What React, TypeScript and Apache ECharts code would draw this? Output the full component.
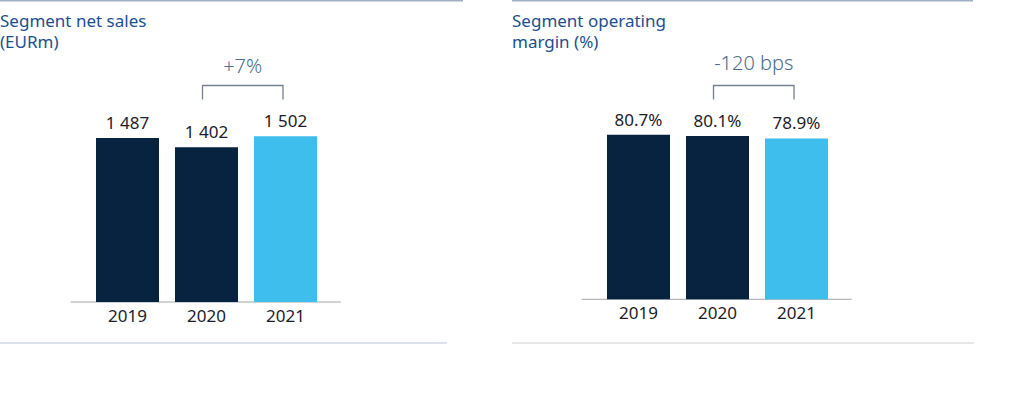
import React, { useEffect, useRef } from "react";
import * as echarts from "echarts";

const years = ["2019", "2020", "2021"];
const netSales = [1487, 1402, 1502];
const netSalesLabels = ["1 487", "1 402", "1 502"];
const opMargin = [80.7, 80.1, 78.9];
const opMarginLabels = ["80.7%", "80.1%", "78.9%"];
const titles = ["Segment net sales\n(EURm)", "Segment operating\nmargin (%)"];
const changes = ["+7%", "-120 bps"];

const NAVY = "#07233f";
const LIGHT = "#3dbeed";
const FONT = "'Noto Sans', sans-serif";

export default function App() {
  const ref = useRef<HTMLDivElement>(null);
  useEffect(() => {
    if (!ref.current) return;
    const chart = echarts.init(ref.current, null, { renderer: "svg" });
    const barData = (vals: number[]) =>
      vals.map((v, i) => ({
        value: v,
        itemStyle: { color: i === vals.length - 1 ? LIGHT : NAVY },
      }));
    const labelCfg = (labels: string[]) => ({
      show: true,
      position: "top",
      distance: 7,
      color: "#1c1c2a",
      fontFamily: FONT,
      fontSize: 17,
      formatter: (p: any) => labels[p.dataIndex],
    });
    const xAxisCfg = (gi: number) => ({
      type: "category",
      gridIndex: gi,
      data: years,
      axisLine: { show: false },
      axisTick: { show: false },
      axisLabel: { color: "#1c1c2a", fontFamily: FONT, fontSize: 17, margin: 5 },
    });
    const yAxisCfg = (gi: number, max: number) => ({
      type: "value",
      gridIndex: gi,
      min: 0,
      max,
      show: false,
      splitLine: { show: false },
    });
    const titleStyle = {
      color: "#1d4f8f",
      fontFamily: FONT,
      fontSize: 17,
      fontWeight: "normal",
      lineHeight: 21,
    };
    chart.setOption({
      animation: false,
      title: [
        { text: titles[0], left: 0, top: 10, padding: 0, textStyle: titleStyle },
        { text: titles[1], left: 512, top: 10, padding: 0, textStyle: titleStyle },
      ],
      grid: [
        { left: 88, width: 237, top: 102, height: 200 },
        { left: 599, width: 237, top: 99.3, height: 200 },
      ],
      xAxis: [xAxisCfg(0), xAxisCfg(1)],
      yAxis: [yAxisCfg(0, 1813), yAxisCfg(1, 98.1)],
      series: [
        {
          type: "bar",
          xAxisIndex: 0,
          yAxisIndex: 0,
          data: barData(netSales),
          barWidth: 63,
          label: labelCfg(netSalesLabels),
        },
        {
          type: "bar",
          xAxisIndex: 1,
          yAxisIndex: 1,
          data: barData(opMargin),
          barWidth: 63,
          label: labelCfg(opMarginLabels),
        },
      ],
    });

    const elements: any[] = [];
    const lineStyle = (c: string) => ({ stroke: c, lineWidth: 1 });
    // frame lines
    elements.push({ type: "line", shape: { x1: 0, y1: 0.5, x2: 463, y2: 0.5 }, style: { stroke: "#9fb0c4", lineWidth: 2 } });
    elements.push({ type: "line", shape: { x1: 512, y1: 0.5, x2: 973, y2: 0.5 }, style: { stroke: "#9fb0c4", lineWidth: 2 } });
    elements.push({ type: "line", shape: { x1: 0, y1: 343, x2: 447, y2: 343 }, style: lineStyle("#b9c3da") });
    elements.push({ type: "line", shape: { x1: 512, y1: 343, x2: 974, y2: 343 }, style: lineStyle("#cfd0d6") });

    [0, 1].forEach((gi) => {
      const p0 = chart.convertToPixel({ gridIndex: gi }, [years[0], 0]) as number[];
      const p1 = chart.convertToPixel({ gridIndex: gi }, [years[1], 0]) as number[];
      const p2 = chart.convertToPixel({ gridIndex: gi }, [years[2], 0]) as number[];
      const step = p1[0] - p0[0];
      const baseY = p0[1];
      // baseline
      elements.push({
        type: "line",
        shape: { x1: p0[0] - step * 0.72, y1: baseY, x2: p2[0] + step * 0.7, y2: baseY },
        style: lineStyle("#a3a6ab"),
      });
      // bracket
      const bx1 = p1[0] - 4;
      const bx2 = p2[0] - 2.5;
      const by = 85.5;
      elements.push({
        type: "polyline",
        shape: { points: [[bx1, by + 14], [bx1, by], [bx2, by], [bx2, by + 14]] },
        style: { stroke: "#75808e", lineWidth: 1.3, fill: null },
      });
      elements.push({
        type: "text",
        x: (bx1 + bx2) / 2,
        y: gi === 0 ? 65 : 62,
        style: {
          text: changes[gi],
          fill: "#4d6b8e",
          font: `300 20px ${FONT}`,
          align: "center",
          verticalAlign: "middle",
        },
      });
    });
    chart.setOption({ graphic: elements });

    return () => chart.dispose();
  }, []);
  return (
    <div
      ref={ref}
      style={{ position: "fixed", left: 0, top: 0, width: 1023, height: 409, background: "#fff" }}
    />
  );
}
